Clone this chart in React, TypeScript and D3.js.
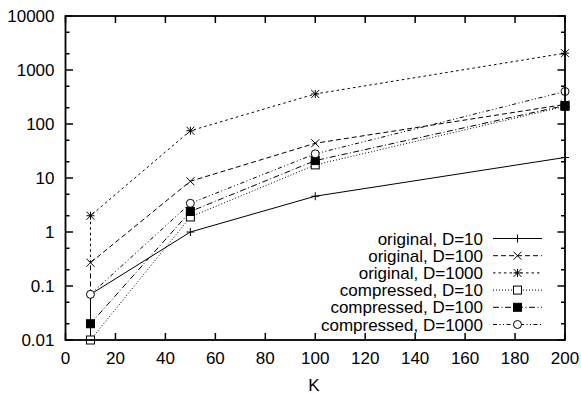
import React from 'react';
import * as d3 from 'd3';

const kValues = [10, 50, 100, 200];
const seriesNames = [
  'original, D=10',
  'original, D=100',
  'original, D=1000',
  'compressed, D=10',
  'compressed, D=100',
  'compressed, D=1000',
];
const originalD10 = [0.07, 1.0, 4.6, 24];
const originalD100 = [0.27, 8.7, 44, 230];
const originalD1000 = [2.0, 75, 360, 2050];
const compressedD10 = [0.01, 1.9, 17.5, 212];
const compressedD100 = [0.02, 2.4, 21, 220];
const compressedD1000 = [0.07, 3.4, 28, 400];
// lower end of the vertical segment each "original" series draws at K=10
const originalK10Drop = [0.01, 0.07, 0.27];

const xTicks = [0, 20, 40, 60, 80, 100, 120, 140, 160, 180, 200];
const yTicks = [0.01, 0.1, 1, 10, 100, 1000, 10000];
const yTickLabels = ['0.01', '0.1', '1', '10', '100', '1000', '10000'];
const yMinorFactors = [2, 5];

const W = 581;
const H = 394;
const L = 65.5, R = 565, T = 16, B = 340;
const FONT = '"Liberation Sans", Arial, Helvetica, sans-serif';
const FS = 17;

type Marker = 'plus' | 'cross' | 'star' | 'square' | 'fsquare' | 'circle';
const styles: { dash: string; marker: Marker }[] = [
  { dash: 'none', marker: 'plus' },
  { dash: '5,3', marker: 'cross' },
  { dash: '2.5,3', marker: 'star' },
  { dash: '1,2', marker: 'square' },
  { dash: '6,2.5,1,2.5', marker: 'fsquare' },
  { dash: '4,2.5,1,2.5,1,2.5', marker: 'circle' },
];

function MarkerShape({ type, x, y }: { type: Marker; x: number; y: number }) {
  const s = 4;
  const st = { stroke: '#000', strokeWidth: 1, fill: 'none' };
  if (type === 'plus')
    return <path d={`M${x - s},${y}H${x + s}M${x},${y - s}V${y + s}`} {...st} />;
  if (type === 'cross')
    return <path d={`M${x - s},${y - s}L${x + s},${y + s}M${x - s},${y + s}L${x + s},${y - s}`} {...st} />;
  if (type === 'star')
    return (
      <path
        d={`M${x - s},${y}H${x + s}M${x},${y - s}V${y + s}M${x - s},${y - s}L${x + s},${y + s}M${x - s},${y + s}L${x + s},${y - s}`}
        {...st}
      />
    );
  if (type === 'square')
    return <rect x={x - s} y={y - s} width={2 * s} height={2 * s} fill="#fff" stroke="#000" strokeWidth={1} />;
  if (type === 'fsquare')
    return <rect x={x - s} y={y - s} width={2 * s} height={2 * s} fill="#000" stroke="#000" strokeWidth={1} />;
  return <circle cx={x} cy={y} r={s} fill="#fff" stroke="#000" strokeWidth={1} />;
}

export default function App() {
  const x = d3.scaleLinear().domain([0, 200]).range([L, R]);
  const y = d3.scaleLog().domain([0.01, 10000]).range([B, T]);
  const series = [originalD10, originalD100, originalD1000, compressedD10, compressedD100, compressedD1000];

  const line = d3
    .line<[number, number]>()
    .x((d) => x(d[0]))
    .y((d) => y(d[1]));

  const minorY: number[] = [];
  yTicks.slice(0, -1).forEach((t) => yMinorFactors.forEach((f) => minorY.push(t * f)));

  const legendX = 483;
  const sampleX0 = 493, sampleX1 = 542;
  const legendY0 = 238.5, legendDy = 17.2;

  return (
    <svg width={W} height={H} style={{ position: 'absolute', left: 0, top: 0, background: '#fff' }} fontFamily={FONT}>
      <rect x={0} y={0} width={W} height={H} fill="#fff" />
      <defs>
        <clipPath id="plotclip">
          <rect x={L} y={T} width={R - L} height={B - T} />
        </clipPath>
      </defs>
      {/* ticks */}
      {xTicks.map((t) => (
        <g key={'xt' + t}>
          <line x1={x(t)} x2={x(t)} y1={B} y2={B - 7} stroke="#000" strokeWidth={1.5} />
          <line x1={x(t)} x2={x(t)} y1={T} y2={T + 7} stroke="#000" strokeWidth={1.5} />
          <text x={x(t)} y={B + 24} textAnchor="middle" fontSize={FS}>
            {t}
          </text>
        </g>
      ))}
      {yTicks.map((t, i) => (
        <g key={'yt' + t}>
          <line x1={L} x2={L + 7.5} y1={y(t)} y2={y(t)} stroke="#000" strokeWidth={1.5} />
          <line x1={R} x2={R - 7.5} y1={y(t)} y2={y(t)} stroke="#000" strokeWidth={1.5} />
          <text x={54.5} y={y(t) + 6} textAnchor="end" fontSize={FS}>
            {yTickLabels[i]}
          </text>
        </g>
      ))}
      {minorY.map((t) => (
        <g key={'ym' + t}>
          <line x1={L} x2={L + 4} y1={y(t)} y2={y(t)} stroke="#000" strokeWidth={1.5} />
          <line x1={R} x2={R - 4} y1={y(t)} y2={y(t)} stroke="#000" strokeWidth={1.5} />
        </g>
      ))}
      <text x={314} y={391} textAnchor="middle" fontSize={FS}>
        K
      </text>
      {/* series */}
      <g clipPath="url(#plotclip)">
        {series.map((vals, si) => {
          const pts: [number, number][] = kValues.map((k, i) => [k, vals[i]]);
          if (si < 3) pts.unshift([kValues[0], originalK10Drop[si]]);
          return (
            <path
              key={'s' + si}
              d={line(pts) || ''}
              fill="none"
              stroke="#000"
              strokeWidth={1}
              strokeDasharray={styles[si].dash}
            />
          );
        })}
      </g>
      {series.map((vals, si) => (
        <g key={'m' + si}>
          {kValues.map((k, i) => (
            <MarkerShape key={i} type={styles[si].marker} x={x(k)} y={y(vals[i])} />
          ))}
        </g>
      ))}
      {/* legend */}
      {seriesNames.map((name, i) => {
        const ly = legendY0 + i * legendDy;
        return (
          <g key={'lg' + i}>
            <text x={legendX} y={ly + 6} textAnchor="end" fontSize={FS}>
              {name}
            </text>
            <line x1={sampleX0} x2={sampleX1} y1={ly} y2={ly} stroke="#000" strokeWidth={1} strokeDasharray={styles[i].dash} />
            <MarkerShape type={styles[i].marker} x={(sampleX0 + sampleX1) / 2} y={ly} />
          </g>
        );
      })}
      {/* frame */}
      <rect x={L} y={T} width={R - L} height={B - T} fill="none" stroke="#000" strokeWidth={1.8} />
    </svg>
  );
}
